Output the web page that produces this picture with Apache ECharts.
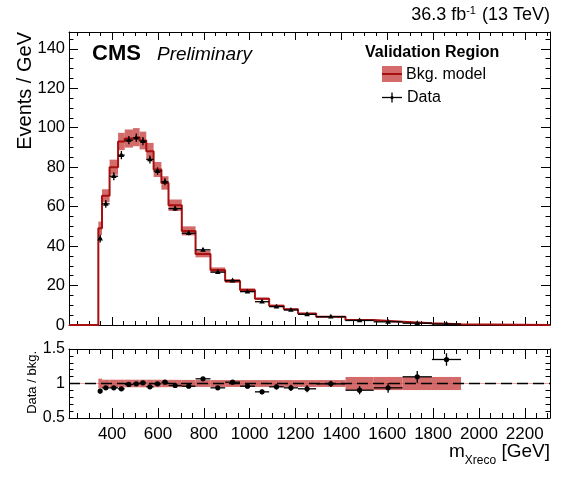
<!DOCTYPE html>
<html><head><meta charset="utf-8">
<script src="https://cdn.jsdelivr.net/npm/echarts@6/dist/echarts.min.js"></script>
<style>html,body{margin:0;padding:0;background:#fff}#c{width:580px;height:490px}</style>
</head><body><div id="c"></div>
<script>
// ---- data ----
const binEdges = [340, 356, 389, 426, 455, 491, 520, 549, 581, 615, 646, 704, 764, 829, 893, 958, 1023, 1085, 1149, 1211, 1290, 1418, 1541, 1667, 1795, 1922];
const bkgModel = [49.0, 65.5, 80.0, 93.0, 94.5, 95.2, 93.5, 88.1, 78.8, 72.0, 60.7, 47.7, 36.0, 27.9, 22.3, 17.8, 13.3, 9.8, 8.0, 5.8, 4.2, 2.5, 1.7, 0.85, 0.35];
const bkgUnc = [3.4, 3.3, 3.8, 4.4, 4.6, 4.6, 4.5, 4.2, 3.8, 3.4, 2.9, 2.3, 1.7, 1.3, 1.0, 0.8, 0.6, 0.45, 0.36, 0.26, 0.2, 0.24, 0.16, 0.08, 0.03];
const dataValues = [43.8, 61.4, 75.4, 86.1, 93.7, 94.9, 93.2, 83.9, 78.0, 72.6, 59.0, 46.5, 38.1, 26.8, 22.5, 16.9, 11.8, 9.3, 7.6, 5.4, 4.2, 2.3, 1.6, 0.93, 0.47];
const dataErr = [2.0, 2.0, 2.0, 2.1, 2.1, 2.1, 2.1, 2.0, 1.9, 1.8, 1.2, 1.0, 0.9, 0.75, 0.7, 0.6, 0.5, 0.45, 0.4, 0.3, 0.18, 0.14, 0.12, 0.09, 0.06];
const ratioValues = [0.89, 0.937, 0.937, 0.923, 0.986, 0.995, 1.01, 0.952, 0.995, 1.019, 0.971, 0.961, 1.068, 0.937, 1.019, 0.961, 0.879, 0.952, 0.937, 0.923, 0.995, 0.903, 0.937, 1.097, 1.348];
const ratioErr = [0.035, 0.025, 0.02, 0.02, 0.018, 0.018, 0.018, 0.018, 0.02, 0.02, 0.018, 0.02, 0.022, 0.025, 0.028, 0.03, 0.035, 0.04, 0.045, 0.05, 0.045, 0.06, 0.07, 0.085, 0.09];
const ratioBandUnc = [0.07, 0.055, 0.055, 0.055, 0.055, 0.055, 0.055, 0.055, 0.055, 0.053, 0.053, 0.052, 0.05, 0.05, 0.05, 0.05, 0.05, 0.05, 0.05, 0.05, 0.05, 0.095, 0.095, 0.095, 0.095];
const xTickLabels = [400, 600, 800, 1000, 1200, 1400, 1600, 1800, 2000, 2200];
const yTickLabelsMain = [0, 20, 40, 60, 80, 100, 120, 140];
const yTickLabelsRatio = [0.5, 1, 1.5];

// ---- style ----
const FONT = '"Liberation Sans", Arial, Helvetica, sans-serif';
const LINE = '#a80f0f';
const BAND = 'rgba(200,70,70,0.8)';
const X_MIN = 212, X_MAX = 2310, Y_MAX = 148.5;

const chart = echarts.init(document.getElementById('c'), null, {renderer: 'canvas'});

function xAxesFor(grid, showLabels, majLen, minLen) {
  const base = {type: 'value', gridIndex: grid, min: X_MIN, max: X_MAX, splitLine: {show: false}};
  const lineOn = {show: true, onZero: false, lineStyle: {color: '#000', width: 1}};
  const lineOff = {show: false, onZero: false};
  const lab = {show: showLabels, margin: 8, fontSize: 17, color: '#000', fontFamily: FONT,
    formatter: v => xTickLabels.indexOf(v) >= 0 ? String(v) : ''};
  return [
    Object.assign({}, base, {position: 'bottom', minInterval: 200, maxInterval: 200, axisLine: lineOn,
      axisTick: {inside: true, length: majLen, lineStyle: {color: '#000', width: 1}}, axisLabel: lab}),
    Object.assign({}, base, {position: 'bottom', minInterval: 50, maxInterval: 50, axisLine: lineOff,
      axisTick: {inside: true, length: minLen, lineStyle: {color: '#000', width: 1}}, axisLabel: {show: false}}),
    Object.assign({}, base, {position: 'top', minInterval: 200, maxInterval: 200, axisLine: lineOn,
      axisTick: {inside: true, length: majLen, lineStyle: {color: '#000', width: 1}}, axisLabel: {show: false}}),
    Object.assign({}, base, {position: 'top', minInterval: 50, maxInterval: 50, axisLine: lineOff,
      axisTick: {inside: true, length: minLen, lineStyle: {color: '#000', width: 1}}, axisLabel: {show: false}})
  ];
}
function yAxesFor(grid, min, max, majInt, minInt, labels, fs, majLen, minLen) {
  const base = {type: 'value', gridIndex: grid, min: min, max: max, splitLine: {show: false}};
  const lineOn = {show: true, onZero: false, lineStyle: {color: '#000', width: 1}};
  const lineOff = {show: false, onZero: false};
  return [
    Object.assign({}, base, {position: 'left', interval: majInt, axisLine: lineOn,
      axisTick: {inside: true, length: majLen, lineStyle: {color: '#000', width: 1}},
      axisLabel: {show: true, margin: 4, fontSize: fs, color: '#000', fontFamily: FONT,
        formatter: v => labels.some(t => Math.abs(t - v) < 1e-9) ? String(v) : ''}}),
    Object.assign({}, base, {position: 'left', interval: minInt, axisLine: lineOff,
      axisTick: {inside: true, length: minLen, lineStyle: {color: '#000', width: 1}}, axisLabel: {show: false}}),
    Object.assign({}, base, {position: 'right', interval: majInt, axisLine: lineOn,
      axisTick: {inside: true, length: majLen, lineStyle: {color: '#000', width: 1}}, axisLabel: {show: false}}),
    Object.assign({}, base, {position: 'right', interval: minInt, axisLine: lineOff,
      axisTick: {inside: true, length: minLen, lineStyle: {color: '#000', width: 1}}, axisLabel: {show: false}})
  ];
}

const nB = bkgModel.length;
const bandMain = bkgModel.map((v, i) => [binEdges[i], binEdges[i + 1], v - bkgUnc[i], v + bkgUnc[i]]);
const stepData = [[X_MIN, 0]].concat(bkgModel.map((v, i) => [binEdges[i], v]), [[binEdges[nB], 0], [X_MAX, 0]]);
const pointsMain = dataValues.map((v, i) => [binEdges[i], binEdges[i + 1], v, dataErr[i]]);
const bandRatio = ratioBandUnc.map((u, i) => [binEdges[i], binEdges[i + 1], 1 - u, 1 + u]);
const pointsRatio = ratioValues.map((v, i) => [binEdges[i], binEdges[i + 1], v, ratioErr[i]]);

function renderBand(params, api) {
  const p0 = api.coord([api.value(0), api.value(3)]);
  const p1 = api.coord([api.value(1), api.value(2)]);
  return {type: 'rect', shape: {x: p0[0], y: p0[1], width: p1[0] - p0[0], height: p1[1] - p0[1]},
    style: {fill: BAND}};
}
function makePointRenderer(marker) {
  return function (params, api) {
    const x0 = api.value(0), x1 = api.value(1), y = api.value(2), e = api.value(3);
    const xc = (x0 + x1) / 2;
    const pl = api.coord([x0, y]), pr = api.coord([x1, y]);
    const pt = api.coord([xc, y + e]), pb = api.coord([xc, y - e]);
    const pc = api.coord([xc, y]);
    const kids = [
      {type: 'line', shape: {x1: pl[0], y1: pl[1], x2: pr[0], y2: pr[1]}, style: {stroke: '#000', lineWidth: 1.3}},
      {type: 'line', shape: {x1: pt[0], y1: pt[1], x2: pb[0], y2: pb[1]}, style: {stroke: '#000', lineWidth: 1.3}}
    ];
    if (marker === 'tri') {
      kids.push({type: 'polygon', shape: {points: [[pc[0], pc[1] - 3], [pc[0] - 2.8, pc[1] + 1.8], [pc[0] + 2.8, pc[1] + 1.8]]},
        style: {fill: '#000'}});
    } else {
      kids.push({type: 'circle', shape: {cx: pc[0], cy: pc[1], r: 2.6}, style: {fill: '#000'}});
    }
    return {type: 'group', children: kids};
  };
}

const option = {
  animation: false,
  backgroundColor: '#fff',
  grid: [
    {left: 69, right: 30, top: 32, height: 293, containLabel: false},
    {left: 69, right: 30, top: 349, height: 69, containLabel: false}
  ],
  xAxis: xAxesFor(0, false, 8, 4).concat(xAxesFor(1, true, 10, 5)),
  yAxis: yAxesFor(0, 0, Y_MAX, 20, 5, yTickLabelsMain, 16.5, 9, 4.5)
    .concat(yAxesFor(1, 0.5, 1.5, 0.5, 0.1, yTickLabelsRatio, 16, 9, 4.5)),
  series: [
    {type: 'custom', name: 'band', xAxisIndex: 0, yAxisIndex: 0, z: 2, data: bandMain,
      encode: {x: [0, 1], y: [2, 3]}, renderItem: renderBand},
    {type: 'line', name: 'Bkg. model', xAxisIndex: 0, yAxisIndex: 0, z: 3, data: stepData, step: 'end',
      showSymbol: false, symbol: 'none', lineStyle: {color: LINE, width: 2}},
    {type: 'custom', name: 'Data', xAxisIndex: 0, yAxisIndex: 0, z: 5, data: pointsMain,
      encode: {x: [0, 1], y: 2}, renderItem: makePointRenderer('tri')},
    {type: 'custom', name: 'ratio band', xAxisIndex: 4, yAxisIndex: 4, z: 2, data: bandRatio,
      encode: {x: [0, 1], y: [2, 3]}, renderItem: renderBand,
      markLine: {silent: true, symbol: 'none', label: {show: false}, animation: false, z: 1,
        lineStyle: {color: '#e7a5a5', type: 'solid', width: 1.2}, data: [{yAxis: 1}]}},
    {type: 'custom', name: 'ratio', xAxisIndex: 4, yAxisIndex: 4, z: 5, data: pointsRatio,
      encode: {x: [0, 1], y: 2}, renderItem: makePointRenderer('circle'),
      markLine: {silent: true, symbol: 'none', label: {show: false}, animation: false,
        lineStyle: {color: '#000', type: [11, 5], width: 1.3}, data: [{yAxis: 1}]}}
  ],
  graphic: [
    {type: 'text', x: 550, y: 15, style: {text: '36.3 fb{sup|-1} (13 TeV)', align: 'right', verticalAlign: 'middle',
      fontSize: 18, fontFamily: FONT, fill: '#000',
      rich: {sup: {fontSize: 11, fontFamily: FONT, fill: '#000', padding: [0, 1, 9, 0]}}}},
    {type: 'text', x: 92, y: 53.5, style: {text: 'CMS', align: 'left', verticalAlign: 'middle',
      fontSize: 22, fontWeight: 'bold', fontFamily: FONT, fill: '#000'}},
    {type: 'text', x: 157, y: 55, style: {text: 'Preliminary', align: 'left', verticalAlign: 'middle',
      fontSize: 19, fontStyle: 'italic', fontFamily: FONT, fill: '#000'}},
    {type: 'text', x: 365, y: 52.5, style: {text: 'Validation Region', align: 'left', verticalAlign: 'middle',
      fontSize: 16, fontWeight: 'bold', fontFamily: FONT, fill: '#000'}},
    {type: 'rect', shape: {x: 382, y: 66, width: 20, height: 16}, style: {fill: BAND}},
    {type: 'line', shape: {x1: 382, y1: 74, x2: 402, y2: 74}, style: {stroke: LINE, lineWidth: 2}},
    {type: 'text', x: 406, y: 74.5, style: {text: 'Bkg. model', align: 'left', verticalAlign: 'middle',
      fontSize: 16, fontFamily: FONT, fill: '#000'}},
    {type: 'line', shape: {x1: 382, y1: 97.5, x2: 402, y2: 97.5}, style: {stroke: '#000', lineWidth: 1.3}},
    {type: 'line', shape: {x1: 392, y1: 92.5, x2: 392, y2: 102.5}, style: {stroke: '#000', lineWidth: 1.3}},
    {type: 'circle', shape: {cx: 392, cy: 97.5, r: 1.6}, style: {fill: '#000'}},
    {type: 'text', x: 407, y: 97.5, style: {text: 'Data', align: 'left', verticalAlign: 'middle',
      fontSize: 16, fontFamily: FONT, fill: '#000'}},
    {type: 'text', x: 25.5, y: 32, rotation: Math.PI / 2, style: {text: 'Events / GeV', align: 'right',
      verticalAlign: 'middle', fontSize: 20, fontFamily: FONT, fill: '#000'}},
    {type: 'text', x: 32, y: 351, rotation: Math.PI / 2, style: {text: 'Data / bkg.', align: 'right',
      verticalAlign: 'middle', fontSize: 13, fontFamily: FONT, fill: '#000'}},
    {type: 'text', x: 550, y: 452, style: {text: 'm{sub|Xreco} [GeV]', align: 'right', verticalAlign: 'middle',
      fontSize: 19, fontFamily: FONT, fill: '#000',
      rich: {sub: {fontSize: 12, fontFamily: FONT, fill: '#000', padding: [17, 0, 0, 0]}}}}
  ]
};
chart.setOption(option);
</script>
</body></html>
